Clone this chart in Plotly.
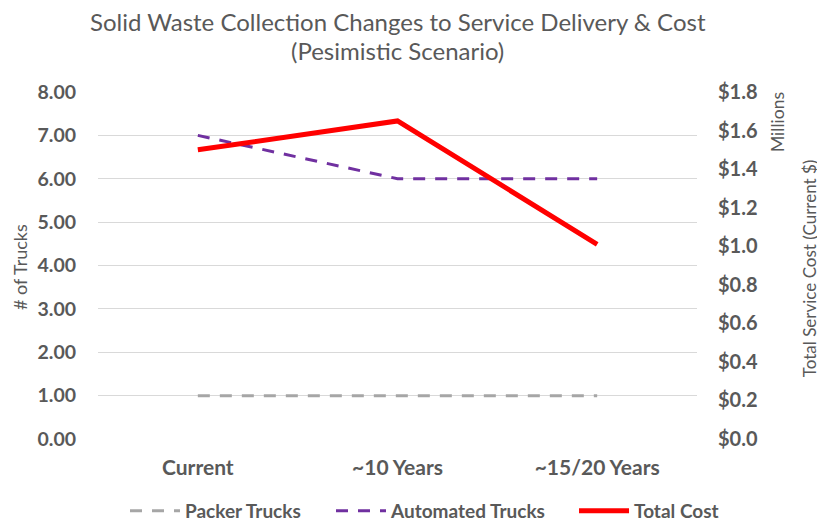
import plotly.graph_objects as go

categories = ["Current", "~10 Years", "~15/20 Years"]
packer_trucks = [1, 1, 1]
automated_trucks = [7, 6, 6]
total_cost_millions = [1.50, 1.65, 1.01]

left_ticks = [0, 1, 2, 3, 4, 5, 6, 7, 8]
left_tick_labels = ["0.00", "1.00", "2.00", "3.00", "4.00", "5.00", "6.00", "7.00", "8.00"]
right_ticks = [0, 0.2, 0.4, 0.6, 0.8, 1.0, 1.2, 1.4, 1.6, 1.8]
right_tick_labels = ["$0.0", "$0.2", "$0.4", "$0.6", "$0.8", "$1.0", "$1.2", "$1.4", "$1.6", "$1.8"]

title_line1 = "Solid Waste Collection Changes to Service Delivery & Cost"
title_line2 = "(Pesimistic Scenario)"

FONT = "Lato"
GREY = "#595959"

fig = go.Figure()
fig.add_trace(go.Scatter(x=categories, y=packer_trucks, name="Packer Trucks", mode="lines",
                         legend="legend",
                         line=dict(color="#a6a6a6", width=3, dash="12px,10px")))
fig.add_trace(go.Scatter(x=categories, y=automated_trucks, name="Automated Trucks", mode="lines",
                         legend="legend2",
                         line=dict(color="#7030a0", width=3, dash="12px,10px")))
fig.add_trace(go.Scatter(x=categories, y=total_cost_millions, name="Total Cost", mode="lines",
                         yaxis="y2", legend="legend3", line=dict(color="#ff0000", width=5)))

legend_font = dict(family=FONT, size=19, color=GREY, weight="bold")
def leg(x):
    return dict(orientation="h", x=x, xanchor="left", y=-0.207, yanchor="middle",
                font=legend_font, itemwidth=50, bgcolor="rgba(0,0,0,0)")

# page body has an 8px default margin, so the figure is 8px smaller
fig.update_layout(
    width=817, height=517,
    margin=dict(l=90, r=128, t=84, b=86, autoexpand=False),
    paper_bgcolor="white", plot_bgcolor="white",
    font=dict(family=FONT, color=GREY),
    xaxis=dict(type="category", range=[-0.5, 2.5], showgrid=False, showline=False, zeroline=False,
               tickfont=dict(family=FONT, size=21, color=GREY, weight="bold"),
               ticks="", ticklabelstandoff=14),
    yaxis=dict(range=[0, 8], tickvals=left_ticks, ticktext=left_tick_labels,
               showgrid=True, gridcolor="#d9d9d9", gridwidth=1, zeroline=False, showline=False,
               tickfont=dict(family=FONT, size=19.5, color=GREY, weight="bold"),
               ticklabelstandoff=21),
    yaxis2=dict(range=[0, 1.8], tickvals=right_ticks, ticktext=right_tick_labels,
                overlaying="y", side="right", showgrid=False, zeroline=False, showline=False,
                tickfont=dict(family=FONT, size=20, color=GREY, weight="bold"),
                ticklabelstandoff=20),
    legend=leg(0.0451),
    legend2=leg(0.389),
    legend3=leg(0.7947),
    showlegend=True,
)

fig.add_annotation(text=title_line1, xref="paper", yref="paper", x=0.5, y=1.2046,
                   xanchor="center", yanchor="middle", showarrow=False,
                   font=dict(family=FONT, size=24, color=GREY))
fig.add_annotation(text=title_line2, xref="paper", yref="paper", x=0.5, y=1.121,
                   xanchor="center", yanchor="middle", showarrow=False,
                   font=dict(family=FONT, size=24, color=GREY))
fig.add_annotation(text="# of Trucks", xref="paper", yref="paper", x=-0.130, y=0.4957,
                   xanchor="center", yanchor="middle", textangle=-90, showarrow=False,
                   font=dict(family=FONT, size=18, color=GREY))
fig.add_annotation(text="Total Service Cost (Current $)", xref="paper", yref="paper", x=1.189, y=0.4928,
                   xanchor="center", yanchor="middle", textangle=-90, showarrow=False,
                   font=dict(family=FONT, size=17, color=GREY))
fig.add_annotation(text="Millions", xref="paper", yref="paper", x=1.1336, y=0.9135,
                   xanchor="center", yanchor="middle", textangle=-90, showarrow=False,
                   font=dict(family=FONT, size=17.5, color=GREY))

fig.write_html("out.html")
